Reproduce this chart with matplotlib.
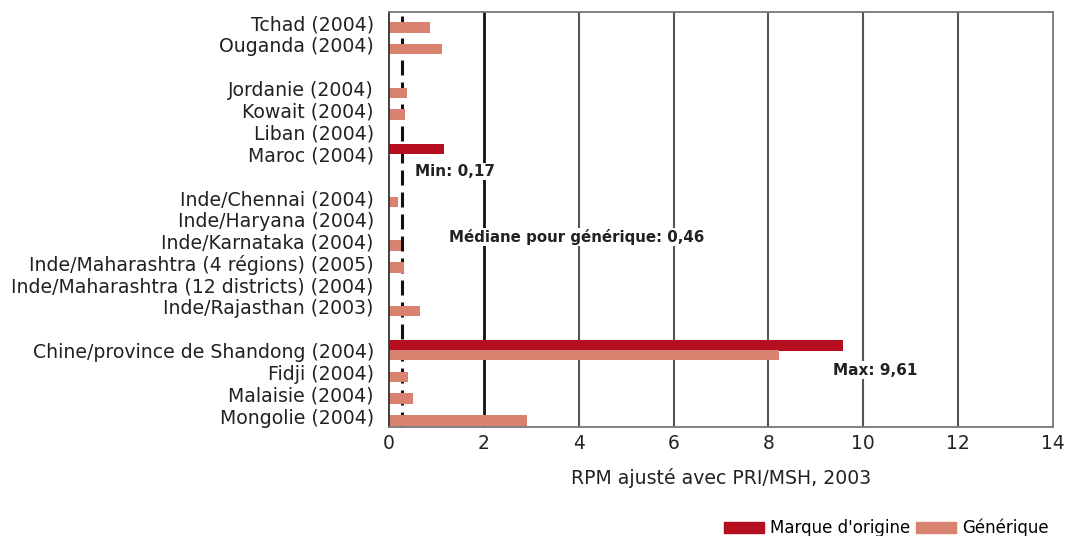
import matplotlib
matplotlib.use("Agg")
import matplotlib.pyplot as plt
import numpy as np
from matplotlib.patches import Patch

categories = ["Tchad (2004)", "Ouganda (2004)", "",
              "Jordanie (2004)", "Kowait (2004)", "Liban (2004)", "Maroc (2004)", "",
              "Inde/Chennai (2004)", "Inde/Haryana (2004)", "Inde/Karnataka (2004)",
              "Inde/Maharashtra (4 régions) (2005)", "Inde/Maharashtra (12 districts) (2004)",
              "Inde/Rajasthan (2003)", "",
              "Chine/province de Shandong (2004)", "Fidji (2004)", "Malaisie (2004)", "Mongolie (2004)"]
brand = [0, 0, 0, 0, 0, 0, 1.15, 0, 0, 0, 0, 0, 0, 0, 0, 9.58, 0, 0, 0]
generic = [0.86, 1.11, 0, 0.37, 0.34, 0, 0, 0, 0.18, 0, 0.25, 0.32, 0, 0.65, 0, 8.22, 0.41, 0.50, 2.90]
median_line = 0.27
xticks = [0, 2, 4, 6, 8, 10, 12, 14]

c_brand = "#B50E1F"
c_gen = "#D98270"

plt.rcParams['font.family'] = ['DejaVu Sans']
fig = plt.figure(figsize=(10.67, 5.36), dpi=100)
ax = fig.add_axes([0.3646, 0.2034, 0.6223, 0.7742])

y = np.arange(len(categories))
h = 0.48
ax.barh(y - 0.22, brand, height=h, color=c_brand, zorder=3)
ax.barh(y + 0.2, generic, height=h, color=c_gen, zorder=3)

ax.set_ylim(len(categories) - 0.5, -0.5)
ax.set_xlim(0, 14)
ax.set_yticks(y)
ax.set_yticklabels(categories, fontsize=13.6, color="#222222")
ax.set_xticks(xticks)
ax.set_xticklabels([str(t) for t in xticks], fontsize=13.4, color="#222222")
ax.tick_params(axis='y', length=0, pad=11)
ax.tick_params(axis='x', length=0, pad=5)

for t in xticks[1:-1]:
    ax.axvline(t, color="#111111" if t == 2 else "#555555", lw=2.0 if t == 2 else 1.5, zorder=1)

ax.axvline(median_line, color="#111111", lw=2.2, dashes=(4.9, 2.3), zorder=2)

for s in ax.spines.values():
    s.set_color("#777777")
    s.set_linewidth(1.3)
    s.set_zorder(4)
ax.spines['left'].set_color("#333333")

bb = dict(facecolor='white', edgecolor='none', pad=1)
ax.text(0.55, 6.8, "Min: 0,17", fontsize=11, fontweight='bold', color="#222222",
        va='center', ha='left', bbox=bb, zorder=5)
ax.text(1.27, 9.8, "Médiane pour générique: 0,46", fontsize=10.8, fontweight='bold', color="#222222",
        va='center', ha='left', bbox=bb, zorder=5)
ax.text(9.36, 15.9, "Max: 9,61", fontsize=11, fontweight='bold', color="#222222",
        va='center', ha='left', bbox=bb, zorder=5)

ax.set_xlabel("RPM ajusté avec PRI/MSH, 2003", fontsize=13.6, color="#222222", labelpad=11)

handles = [Patch(color=c_brand, label="Marque d'origine"), Patch(color=c_gen, label="Générique")]
fig.legend(handles=handles, loc='lower right', bbox_to_anchor=(0.997, -0.03), ncol=2, frameon=False,
           fontsize=12.0, handlelength=2.4, handleheight=0.62, handletextpad=0.4, columnspacing=0.3)

fig.savefig("out.png", dpi=100)
